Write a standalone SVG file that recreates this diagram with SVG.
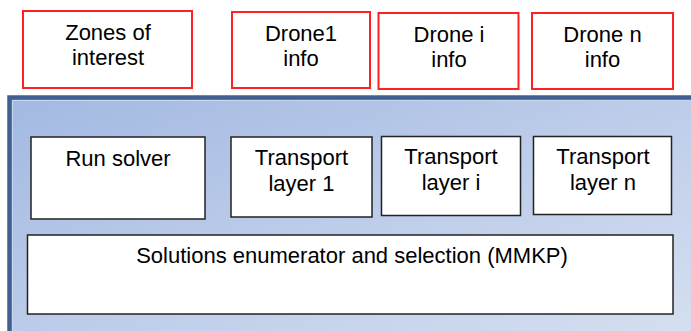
<svg xmlns="http://www.w3.org/2000/svg" width="691" height="331" viewBox="0 0 691 331">
  <defs>
    <linearGradient id="panelFill" x1="0" y1="0" x2="1" y2="1">
      <stop offset="0" stop-color="#A3B9E2"/>
      <stop offset="1" stop-color="#D8E1F1"/>
    </linearGradient>
  </defs>
  <style>
    .input rect { fill: #FFFFFF; stroke: #FF2020; stroke-width: 2; }
    .block rect { fill: #FFFFFF; stroke: #222222; stroke-width: 1.5; }
    text { font-family: "Liberation Sans", Arial, sans-serif; font-size: 22px; fill: #000000; text-anchor: middle; }
  </style>

  <rect width="691" height="331" fill="#FFFFFF"/>

  <!-- framework panel -->
  <g id="panel">
    <rect x="9.5" y="97.5" width="700" height="260" fill="url(#panelFill)" stroke="#3F6090" stroke-width="4.5"/>
    <path d="M12.5 331 V100.5 H691" fill="none" stroke="#C7D5EE" stroke-width="1"/>
  </g>

  <!-- inputs -->
  <g id="zones" class="input">
    <rect x="23" y="11" width="169" height="77"/>
    <text x="108" y="40">Zones of</text>
    <text x="108" y="65">interest</text>
  </g>
  <g id="drone1" class="input">
    <rect x="232" y="12" width="138" height="76"/>
    <text x="301" y="41">Drone1</text>
    <text x="301" y="66">info</text>
  </g>
  <g id="dronei" class="input">
    <rect x="378.5" y="13" width="140" height="76"/>
    <text x="449" y="42">Drone i</text>
    <text x="449" y="67">info</text>
  </g>
  <g id="dronen" class="input">
    <rect x="532" y="13" width="141" height="76"/>
    <text x="602.5" y="42">Drone n</text>
    <text x="602.5" y="67">info</text>
  </g>

  <!-- processing blocks -->
  <g id="solver" class="block">
    <rect x="31" y="137" width="174" height="82"/>
    <text x="118" y="166">Run solver</text>
  </g>
  <g id="transport1" class="block">
    <rect x="231" y="137" width="141" height="80"/>
    <text x="301.5" y="165">Transport</text>
    <text x="301.5" y="191">layer 1</text>
  </g>
  <g id="transporti" class="block">
    <rect x="381.5" y="136.5" width="139" height="79"/>
    <text x="451" y="164">Transport</text>
    <text x="451" y="190">layer i</text>
  </g>
  <g id="transportn" class="block">
    <rect x="533.5" y="136.5" width="138" height="78"/>
    <text x="603" y="164">Transport</text>
    <text x="603" y="190">layer n</text>
  </g>
  <g id="enumerator" class="block">
    <rect x="27.5" y="235" width="645.5" height="79"/>
    <text x="352" y="263">Solutions enumerator and selection (MMKP)</text>
  </g>

  <!-- no connectors in this diagram -->
  <g id="connectors"/>
</svg>
